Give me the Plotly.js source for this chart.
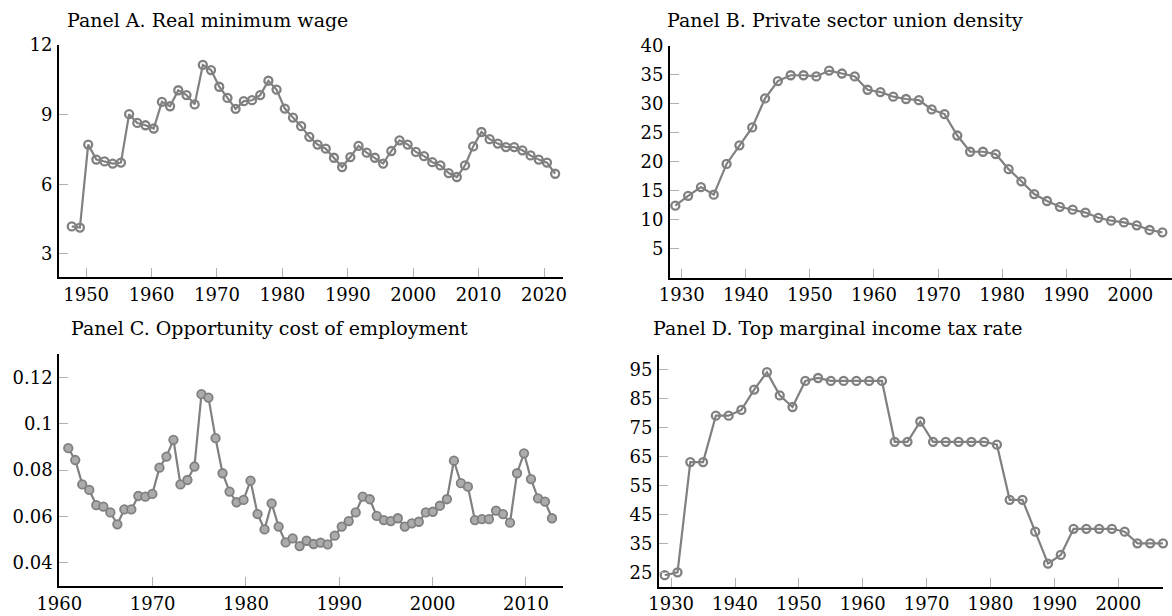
<!DOCTYPE html>
<html><head><meta charset="utf-8">
<script src="https://cdn.plot.ly/plotly-3.0.1.min.js"></script>
<style>html,body{margin:0;padding:0;background:#fff}#chart{width:1172px;height:616px}</style>
</head><body><div id="chart"></div>
<script>
// ---------- Data ----------
const panelTitles = [
  "Panel A. Real minimum wage",
  "Panel B. Private sector union density",
  "Panel C. Opportunity cost of employment",
  "Panel D. Top marginal income tax rate"
];

const minWageYears = [
  1947.80, 1949.05, 1950.31, 1951.56, 1952.81, 1954.06, 1955.32, 1956.57, 1957.82, 1959.07,
  1960.33, 1961.58, 1962.83, 1964.08, 1965.34, 1966.59, 1967.84, 1969.09, 1970.35, 1971.60,
  1972.85, 1974.10, 1975.36, 1976.61, 1977.86, 1979.11, 1980.37, 1981.62, 1982.87, 1984.12,
  1985.38, 1986.63, 1987.88, 1989.13, 1990.39, 1991.64, 1992.89, 1994.14, 1995.40, 1996.65,
  1997.90, 1999.15, 2000.41, 2001.66, 2002.91, 2004.16, 2005.42, 2006.67, 2007.92, 2009.17,
  2010.43, 2011.68, 2012.93, 2014.18, 2015.44, 2016.69, 2017.94, 2019.19, 2020.45, 2021.70
];
const minWage = [
  4.18, 4.13, 7.71, 7.06, 6.98, 6.89, 6.93, 9.02, 8.64, 8.54,
  8.40, 9.55, 9.36, 10.05, 9.84, 9.44, 11.14, 10.92, 10.20, 9.72,
  9.25, 9.58, 9.62, 9.84, 10.46, 10.08, 9.26, 8.87, 8.50, 8.04,
  7.71, 7.53, 7.14, 6.74, 7.17, 7.65, 7.36, 7.14, 6.89, 7.43,
  7.89, 7.71, 7.39, 7.21, 6.95, 6.81, 6.48, 6.31, 6.81, 7.63,
  8.25, 7.94, 7.75, 7.60, 7.60, 7.46, 7.24, 7.06, 6.93, 6.45
];

const unionYears = [
  1929, 1931, 1933, 1935, 1937, 1939, 1941, 1943, 1945, 1947,
  1949, 1951, 1953, 1955, 1957, 1959, 1961, 1963, 1965, 1967,
  1969, 1971, 1973, 1975, 1977, 1979, 1981, 1983, 1985, 1987,
  1989, 1991, 1993, 1995, 1997, 1999, 2001, 2003, 2005
];
const unionDensity = [
  12.4, 14.1, 15.6, 14.3, 19.6, 22.8, 25.9, 30.9, 33.9, 34.9,
  34.9, 34.7, 35.7, 35.2, 34.7, 32.4, 32.0, 31.2, 30.8, 30.6,
  29.0, 28.2, 24.5, 21.7, 21.7, 21.3, 18.7, 16.6, 14.4, 13.2,
  12.2, 11.7, 11.2, 10.3, 9.8, 9.5, 9.0, 8.2, 7.8
];

const oppCostYears = [
  1960.96, 1961.71, 1962.46, 1963.21, 1963.96, 1964.72, 1965.47, 1966.22, 1966.97, 1967.72,
  1968.47, 1969.22, 1969.97, 1970.73, 1971.48, 1972.23, 1972.98, 1973.73, 1974.48, 1975.23,
  1975.98, 1976.74, 1977.49, 1978.24, 1978.99, 1979.74, 1980.49, 1981.24, 1981.99, 1982.75,
  1983.50, 1984.25, 1985.00, 1985.75, 1986.50, 1987.25, 1988.00, 1988.75, 1989.51, 1990.26,
  1991.01, 1991.76, 1992.51, 1993.26, 1994.01, 1994.77, 1995.52, 1996.27, 1997.02, 1997.77,
  1998.52, 1999.27, 2000.02, 2000.78, 2001.53, 2002.28, 2003.03, 2003.78, 2004.53, 2005.28,
  2006.03, 2006.79, 2007.54, 2008.29, 2009.04, 2009.79, 2010.54, 2011.29, 2012.04, 2012.79
];
const oppCost = [
  0.0894, 0.0843, 0.0738, 0.0714, 0.0649, 0.0642, 0.0617, 0.0566, 0.0630, 0.0630,
  0.0688, 0.0685, 0.0697, 0.0810, 0.0858, 0.0930, 0.0738, 0.0757, 0.0815, 0.1127,
  0.1112, 0.0937, 0.0786, 0.0707, 0.0661, 0.0671, 0.0754, 0.0610, 0.0544, 0.0656,
  0.0556, 0.0488, 0.0505, 0.0472, 0.0495, 0.0481, 0.0487, 0.0479, 0.0517, 0.0556,
  0.0580, 0.0617, 0.0685, 0.0674, 0.0602, 0.0584, 0.0580, 0.0592, 0.0556, 0.0570,
  0.0577, 0.0617, 0.0620, 0.0646, 0.0674, 0.0840, 0.0743, 0.0728, 0.0584, 0.0588,
  0.0588, 0.0625, 0.0610, 0.0573, 0.0786, 0.0872, 0.0761, 0.0678, 0.0664, 0.0592
];

const taxYears = [
  1929, 1931, 1933, 1935, 1937, 1939, 1941, 1943, 1945, 1947,
  1949, 1951, 1953, 1955, 1957, 1959, 1961, 1963, 1965, 1967,
  1969, 1971, 1973, 1975, 1977, 1979, 1981, 1983, 1985, 1987,
  1989, 1991, 1993, 1995, 1997, 1999, 2001, 2003, 2005, 2007
];
const topTaxRate = [
  24, 25, 63, 63, 79, 79, 81, 88, 94, 86,
  82, 91, 92, 91, 91, 91, 91, 91, 70, 70,
  77, 70, 70, 70, 70, 70, 69, 50, 50, 39,
  28, 31, 40, 40, 40, 40, 39, 35, 35, 35
];

const xTicksA = [1950, 1960, 1970, 1980, 1990, 2000, 2010, 2020];
const yTicksA = [3, 6, 9, 12];
const xTicksB = [1930, 1940, 1950, 1960, 1970, 1980, 1990, 2000];
const yTicksB = [5, 10, 15, 20, 25, 30, 35, 40];
const xTicksC = [1960, 1970, 1980, 1990, 2000, 2010];
const yTicksC = [0.04, 0.06, 0.08, 0.1, 0.12];
const xTicksD = [1930, 1940, 1950, 1960, 1970, 1980, 1990, 2000];
const yTicksD = [25, 35, 45, 55, 65, 75, 85, 95];

// ---------- Styling ----------
const W = 1172, H = 616;
const FONT = "DejaVu Serif";
const LINE = "#808080";
const px = v => v / W;
const py = v => 1 - v / H;

function axis(domain, range, ticks, anchor, standoff) {
  return {
    domain: domain, range: range, tickvals: ticks, anchor: anchor,
    ticks: "inside", ticklen: 9, tickwidth: 1, tickcolor: "#b0b0b0",
    showline: true, linecolor: "#000", linewidth: 2, mirror: false,
    showgrid: false, zeroline: false, fixedrange: true,
    ticklabelstandoff: standoff,
    tickfont: {family: FONT, size: 18, color: "#000"}
  };
}

const openMarker = {symbol: "circle-open", size: 8, color: LINE, line: {width: 2.3, color: LINE}};
const filledMarker = {symbol: "circle", size: 8.5, color: "#ababab", line: {width: 1.8, color: LINE}};

const traces = [
  {x: minWageYears, y: minWage, xaxis: "x", yaxis: "y", mode: "lines+markers",
   line: {color: LINE, width: 2.2}, marker: openMarker, cliponaxis: false},
  {x: unionYears, y: unionDensity, xaxis: "x2", yaxis: "y2", mode: "lines+markers",
   line: {color: LINE, width: 2.2}, marker: openMarker, cliponaxis: false},
  {x: oppCostYears, y: oppCost, xaxis: "x3", yaxis: "y3", mode: "lines+markers",
   line: {color: LINE, width: 2.2}, marker: filledMarker, cliponaxis: false},
  {x: taxYears, y: topTaxRate, xaxis: "x4", yaxis: "y4", mode: "lines+markers",
   line: {color: LINE, width: 2.2}, marker: openMarker, cliponaxis: false}
];

const layout = {
  width: W, height: H,
  margin: {l: 0, r: 0, t: 0, b: 0},
  paper_bgcolor: "#fff", plot_bgcolor: "#fff",
  showlegend: false,
  font: {family: FONT, color: "#000"},
  xaxis:  axis([px(59), px(563)], [1945.85, 2022.9], xTicksA, "y", 0),
  yaxis:  axis([py(277), py(45)], [2, 12], yTicksA, "x", 1),
  xaxis2: axis([px(670), 1], [1928.17, 2006.5], xTicksB, "y2", 0),
  yaxis2: axis([py(277.5), py(45.7)], [0, 40], yTicksB, "x2", 1),
  xaxis3: axis([px(59.3), px(563.3)], [1960, 2014], xTicksC, "y3", 0),
  yaxis3: axis([py(586), py(354)], [0.03, 0.13], yTicksC, "x3", 1),
  xaxis4: axis([px(659), px(1163)], [1928.1, 2007], xTicksD, "y4", 0),
  yaxis4: axis([py(586.8), py(354.8)], [20, 100], yTicksD, "x4", 1),
  annotations: [
    {text: panelTitles[0], x: px(65), y: py(20)},
    {text: panelTitles[1], x: px(665), y: py(20)},
    {text: panelTitles[2], x: px(69), y: py(328)},
    {text: panelTitles[3], x: px(651), y: py(328)}
  ].map(a => Object.assign(a, {xref: "paper", yref: "paper", xanchor: "left", yanchor: "middle",
    showarrow: false, font: {family: FONT, size: 19, color: "#000"}}))
};

Plotly.newPlot("chart", traces, layout, {displayModeBar: false, staticPlot: true});
</script>
</body></html>
